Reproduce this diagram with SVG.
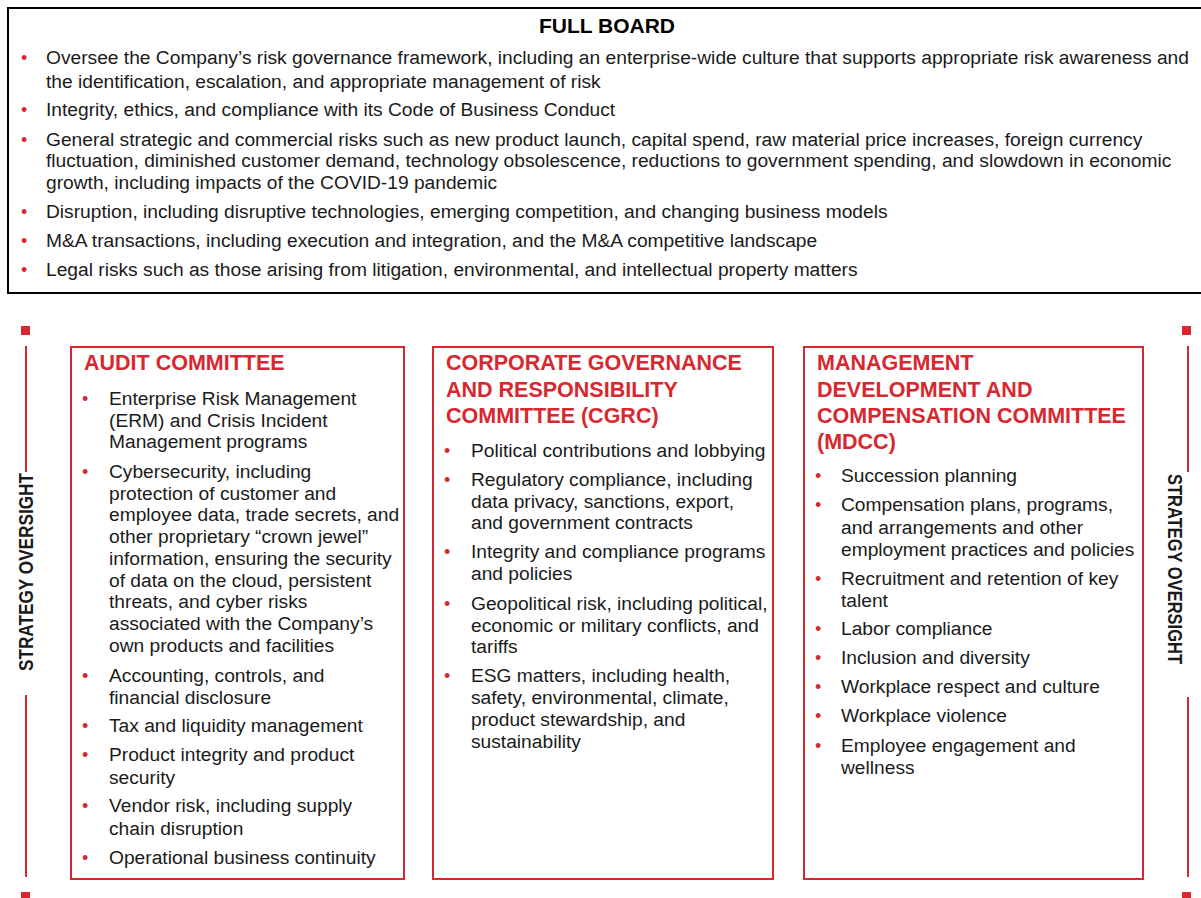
<svg xmlns="http://www.w3.org/2000/svg" width="1201" height="898" viewBox="0 0 1201 898">
<style>
.t{font-family:"Liberation Sans",Arial,sans-serif;font-size:19.2px;fill:#1a1a1a}
.b{font-family:"Liberation Sans",Arial,sans-serif;font-size:18px;fill:#d7282f}
.h{font-family:"Liberation Sans",Arial,sans-serif;font-size:21.5px;font-weight:bold;fill:#d7282f}
.ft{font-family:"Liberation Sans",Arial,sans-serif;font-size:21px;font-weight:bold;fill:#000}
.so{font-family:"Liberation Sans",Arial,sans-serif;font-size:20px;font-weight:bold;fill:#1a1a1a}
.box{fill:#fff;stroke:#d7282f;stroke-width:2}
.ln{stroke:#d7282f;stroke-width:2}
.sq{fill:#d7282f}
</style>
<rect width="1201" height="898" fill="#fff"/>
<g id="full-board">
<rect x="8" y="8" width="1200" height="285" fill="#fff" stroke="#000" stroke-width="2"/>
<text class="ft" x="607" y="33" text-anchor="middle">FULL BOARD</text>
<g class="b"><text x="21" y="64">•</text><text x="21" y="116">•</text><text x="21" y="146">•</text><text x="21" y="218">•</text><text x="21" y="247">•</text><text x="21" y="276">•</text></g>
<text class="t" x="46" y="64">Oversee the Company’s risk governance framework, including an enterprise-wide culture that supports appropriate risk awareness and</text>
<text class="t" x="46" y="88">the identification, escalation, and appropriate management of risk</text>
<text class="t" x="46" y="116">Integrity, ethics, and compliance with its Code of Business Conduct</text>
<text class="t" x="46" y="146">General strategic and commercial risks such as new product launch, capital spend, raw material price increases, foreign currency</text>
<text class="t" x="46" y="167">fluctuation, diminished customer demand, technology obsolescence, reductions to government spending, and slowdown in economic</text>
<text class="t" x="46" y="189">growth, including impacts of the COVID-19 pandemic</text>
<text class="t" x="46" y="218">Disruption, including disruptive technologies, emerging competition, and changing business models</text>
<text class="t" x="46" y="247">M&amp;A transactions, including execution and integration, and the M&amp;A competitive landscape</text>
<text class="t" x="46" y="276">Legal risks such as those arising from litigation, environmental, and intellectual property matters</text>
</g>
<g id="strategy-left">
<rect class="sq" x="21" y="326" width="9" height="9"/>
<line class="ln" x1="26" y1="346" x2="26" y2="472"/>
<line class="ln" x1="26" y1="695" x2="26" y2="877"/>
<rect class="sq" x="21" y="892" width="9" height="9"/>
<text class="so" transform="translate(33,572) rotate(-90)" text-anchor="middle" textLength="198" lengthAdjust="spacingAndGlyphs">STRATEGY OVERSIGHT</text>
</g>
<g id="strategy-right">
<rect class="sq" x="1182" y="326" width="9" height="9"/>
<line class="ln" x1="1188" y1="346" x2="1188" y2="472"/>
<line class="ln" x1="1188" y1="697" x2="1188" y2="877"/>
<rect class="sq" x="1182" y="892" width="9" height="9"/>
<text class="so" transform="translate(1168,569) rotate(90)" text-anchor="middle" textLength="190" lengthAdjust="spacingAndGlyphs">STRATEGY OVERSIGHT</text>
</g>
<g id="audit">
<rect class="box" x="71" y="347" width="333" height="532"/>
<text class="h" x="84" y="370">AUDIT COMMITTEE</text>
<g class="b"><text x="82" y="405">•</text><text x="82" y="478">•</text><text x="82" y="682">•</text><text x="82" y="732">•</text><text x="82" y="761">•</text><text x="82" y="812">•</text><text x="82" y="864">•</text></g>
<g class="t">
<text x="109" y="405">Enterprise Risk Management</text>
<text x="109" y="426.7">(ERM) and Crisis Incident</text>
<text x="109" y="448.4">Management programs</text>
<text x="109" y="478">Cybersecurity, including</text>
<text x="109" y="499.7">protection of customer and</text>
<text x="109" y="521.4">employee data, trade secrets, and</text>
<text x="109" y="543.1">other proprietary “crown jewel”</text>
<text x="109" y="564.8">information, ensuring the security</text>
<text x="109" y="586.5">of data on the cloud, persistent</text>
<text x="109" y="608.2">threats, and cyber risks</text>
<text x="109" y="629.9">associated with the Company’s</text>
<text x="109" y="651.6">own products and facilities</text>
<text x="109" y="682">Accounting, controls, and</text>
<text x="109" y="703.5">financial disclosure</text>
<text x="109" y="732">Tax and liquidity management</text>
<text x="109" y="761">Product integrity and product</text>
<text x="109" y="783.5">security</text>
<text x="109" y="812">Vendor risk, including supply</text>
<text x="109" y="834.5">chain disruption</text>
<text x="109" y="864">Operational business continuity</text>
</g>
</g>
<g id="cgrc">
<rect class="box" x="433" y="347" width="340" height="532"/>
<text class="h" x="446" y="370">CORPORATE GOVERNANCE</text>
<text class="h" x="446" y="397">AND RESPONSIBILITY</text>
<text class="h" x="446" y="423">COMMITTEE (CGRC)</text>
<g class="b"><text x="444" y="457">•</text><text x="444" y="486">•</text><text x="444" y="558">•</text><text x="444" y="610">•</text><text x="444" y="682">•</text></g>
<g class="t">
<text x="471" y="457">Political contributions and lobbying</text>
<text x="471" y="486">Regulatory compliance, including</text>
<text x="471" y="507.5">data privacy, sanctions, export,</text>
<text x="471" y="529">and government contracts</text>
<text x="471" y="558">Integrity and compliance programs</text>
<text x="471" y="580">and policies</text>
<text x="471" y="610">Geopolitical risk, including political,</text>
<text x="471" y="631.5">economic or military conflicts, and</text>
<text x="471" y="653">tariffs</text>
<text x="471" y="682">ESG matters, including health,</text>
<text x="471" y="704">safety, environmental, climate,</text>
<text x="471" y="726">product stewardship, and</text>
<text x="471" y="748">sustainability</text>
</g>
</g>
<g id="mdcc">
<rect class="box" x="804" y="347" width="339" height="532"/>
<text class="h" x="817" y="370">MANAGEMENT</text>
<text class="h" x="817" y="397">DEVELOPMENT AND</text>
<text class="h" x="817" y="423">COMPENSATION COMMITTEE</text>
<text class="h" x="817" y="449">(MDCC)</text>
<g class="b"><text x="815" y="482">•</text><text x="815" y="511">•</text><text x="815" y="585">•</text><text x="815" y="635">•</text><text x="815" y="664">•</text><text x="815" y="693">•</text><text x="815" y="722">•</text><text x="815" y="752">•</text></g>
<g class="t">
<text x="841" y="482">Succession planning</text>
<text x="841" y="511">Compensation plans, programs,</text>
<text x="841" y="533.5">and arrangements and other</text>
<text x="841" y="556">employment practices and policies</text>
<text x="841" y="585">Recruitment and retention of key</text>
<text x="841" y="606.5">talent</text>
<text x="841" y="635">Labor compliance</text>
<text x="841" y="664">Inclusion and diversity</text>
<text x="841" y="693">Workplace respect and culture</text>
<text x="841" y="722">Workplace violence</text>
<text x="841" y="752">Employee engagement and</text>
<text x="841" y="774">wellness</text>
</g>
</g>
</svg>
